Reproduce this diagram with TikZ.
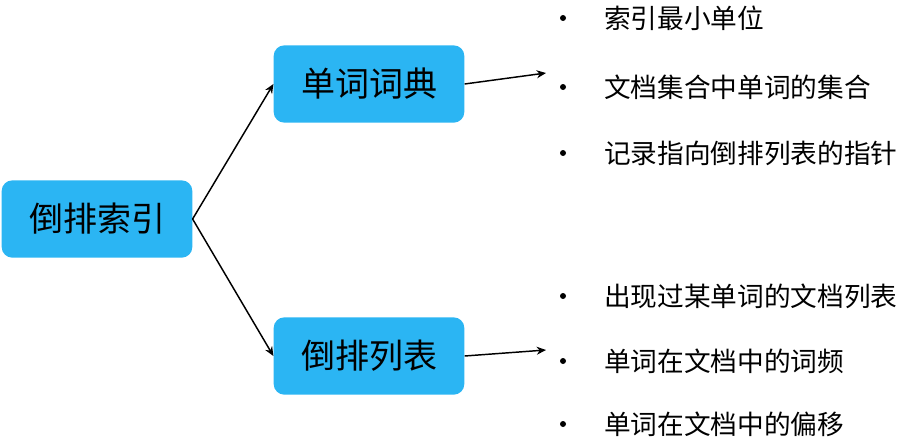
\documentclass[tikz,border=0pt]{standalone}
\usepackage{fontspec}
\setmainfont{Noto Sans CJK SC}
\usetikzlibrary{arrows.meta}
\definecolor{boxc}{HTML}{2BB5F3}
\tikzset{
  box/.style={fill=boxc,rounded corners=8pt,minimum width=143pt,minimum height=58pt,font=\fontsize{25.5}{30}\selectfont,inner sep=0pt},
  conn/.style={-{Stealth[length=7pt,width=6pt]},line width=1.1pt},
  item/.style={anchor=west,font=\fontsize{20}{24}\selectfont,inner sep=0pt},
  dot/.style={circle,fill=black,inner sep=0pt,minimum size=4.5pt}
}
\begin{document}
\begin{tikzpicture}[x=0.75pt,y=-0.75pt]
\useasboundingbox (0,0) rectangle (912,446);
\node[box] (root) at (97,219) {倒排索引};
\node[box] (dict) at (369,84) {单词词典};
\node[box] (list) at (369,356) {倒排列表};
\coordinate (d1) at (546,73);
\coordinate (l1) at (546,350);
\draw[conn] (root.east) -- (dict.west);
\draw[conn] (root.east) -- (list.west);
\draw[conn] (dict.east) -- (d1);
\draw[conn] (list.east) -- (l1);
\foreach \y/\t [count=\i] in {18/索引最小单位,87/文档集合中单词的集合,153/记录指向倒排列表的指针,296/出现过某单词的文档列表,361/单词在文档中的词频,424/单词在文档中的偏移}{
  \node[dot] (b\i) at (563,\y) {};
  \node[item] (t\i) at (604,\y) {\t};
}
\end{tikzpicture}
\end{document}
